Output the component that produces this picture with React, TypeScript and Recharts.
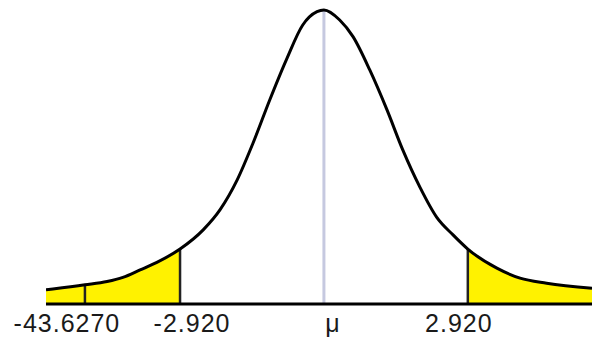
import { ComposedChart, Area, Line, XAxis, YAxis, ReferenceLine } from "recharts";

// curve sampled along the t axis (density read at each point)
const T_VALUES = [-5.64, -5.5, -4.85, -4.4, -4.08, -3.73, -3.39, -2.92, -2.45, -2.11, -1.76, -1.44, -1.1, -0.75, -0.43, -0.14, 0, 0.32, 0.59, 0.93, 1.28, 1.6, 1.95, 2.29, 2.62, 2.92, 3.51, 3.98, 4.52, 5.44];
const DENSITY = [0.017, 0.018, 0.023, 0.027, 0.032, 0.041, 0.05, 0.066, 0.089, 0.113, 0.149, 0.193, 0.245, 0.295, 0.335, 0.351, 0.353, 0.341, 0.321, 0.281, 0.233, 0.185, 0.14, 0.104, 0.083, 0.066, 0.043, 0.031, 0.025, 0.019];

const CRITICAL = 2.92;
const TEST_STAT = -43.627;
const AXIS_MIN = -5.64;
const AXIS_MAX = 5.44;

// the statistic is far off-scale, so pin its marker just inside the left edge
const markerX = Math.max(TEST_STAT, AXIS_MIN + 0.79);

const TICK_VALUES = [markerX, -CRITICAL, 0, CRITICAL];
const TICK_LABELS = ["-43.6270", "-2.920", "μ", "2.920"];
const TICK_NUDGE = [-18, 12, 9, -9];

const data = T_VALUES.map((t, i) => ({
    t,
    density: DENSITY[i],
    leftTail: t <= -CRITICAL ? DENSITY[i] : null,
    rightTail: t >= CRITICAL ? DENSITY[i] : null,
}));

const densityAt = (t: number) => data.find((d) => Math.abs(d.t - t) < 1e-6)?.density ?? 0;

const YELLOW = "#fff200";

function Tick(props: any) {
    const { x, y, index } = props;
    return (
        <text
            x={x + TICK_NUDGE[index]}
            y={y + 28}
            textAnchor="middle"
            fontFamily="'Liberation Sans', Arial, sans-serif"
            fontSize={25}
            letterSpacing={1}
            fill="#1a1a1a"
        >
            {TICK_LABELS[index]}
        </text>
    );
}

export default function App() {
    return (
        <div style={{ position: "absolute", left: 0, top: 0, width: 592, height: 341, background: "#fff" }}>
            <ComposedChart width={592} height={341} data={data} margin={{ top: 0, right: 0, bottom: 0, left: 46 }}>
                <XAxis
                    dataKey="t"
                    type="number"
                    domain={[AXIS_MIN, AXIS_MAX]}
                    allowDataOverflow
                    ticks={TICK_VALUES}
                    interval={0}
                    tick={<Tick />}
                    tickLine={false}
                    tickSize={0}
                    tickMargin={0}
                    height={37}
                    axisLine={{ stroke: "#000", strokeWidth: 3 }}
                />
                <YAxis hide domain={[0, 0.365]} allowDataOverflow />
                <Area dataKey="leftTail" type="monotone" stroke="none" fill={YELLOW} fillOpacity={1} isAnimationActive={false} />
                <Area dataKey="rightTail" type="monotone" stroke="none" fill={YELLOW} fillOpacity={1} isAnimationActive={false} />
                <ReferenceLine segment={[{ x: 0, y: 0 }, { x: 0, y: densityAt(0) }]} stroke="#c6c9e0" strokeWidth={3} />
                <ReferenceLine segment={[{ x: -CRITICAL, y: 0 }, { x: -CRITICAL, y: densityAt(-CRITICAL) }]} stroke="#222" strokeWidth={2.5} />
                <ReferenceLine segment={[{ x: CRITICAL, y: 0 }, { x: CRITICAL, y: densityAt(CRITICAL) }]} stroke="#222" strokeWidth={2.5} />
                <ReferenceLine segment={[{ x: markerX, y: 0 }, { x: markerX, y: densityAt(markerX) }]} stroke="#222" strokeWidth={2.5} />
                <Line dataKey="density" type="monotone" stroke="#000" strokeWidth={3} dot={false} isAnimationActive={false} />
            </ComposedChart>
        </div>
    );
}
